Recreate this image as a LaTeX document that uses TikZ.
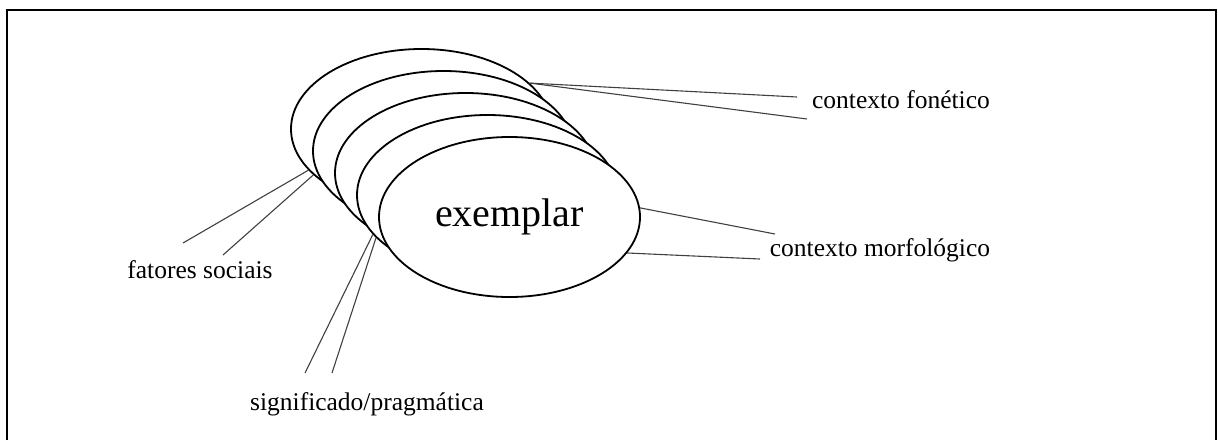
\documentclass[tikz,border=0pt]{standalone}
\usepackage{fontspec}
\setmainfont{Liberation Serif}
\usetikzlibrary{shapes.geometric, positioning, calc}
\tikzset{
    layer/.style={draw, ellipse, fill=white, line width=1.8pt, inner sep=0pt, minimum width=261pt, minimum height=160pt},
    label/.style={font=\fontsize{25.5}{30}\selectfont, inner sep=0pt},
    link/.style={line width=1.1pt, draw=black!75},
    frame/.style={line width=1.6pt, draw=black},
}
\begin{document}
\begin{tikzpicture}[x=1pt, y=-1pt]
    \useasboundingbox (0,0) rectangle (1218,440);
    % Frame
    \draw[frame] (7,440) -- (7,10) -- (1216,10) -- (1216,440);

    % Stacked exemplars, back to front
    \foreach \k in {4,3,2,1} {
        \node[layer] (e\k) at ({509.5-22*\k}, {217-22*\k}) {};
    }
    \node[layer, font=\fontsize{40}{46}\selectfont] (e0) at (509.5, 217) {exemplar};

    % Labels
    \node[label] (fon) at (901, 100) {contexto fonético};
    \node[label] (morf) at (880, 250) {contexto morfológico};
    \node[label] (soc) at (200, 270) {fatores sociais};
    \node[label] (sig) at (367, 404) {significado/pragmática};

    % Free ends of the links
    \coordinate (fon1) at (797, 97);
    \coordinate (fon2) at (807, 119);
    \coordinate (morf1) at (775, 234);
    \coordinate (morf2) at (760, 259);
    \coordinate (soc1) at (183, 243);
    \coordinate (soc2) at (223, 255);
    \coordinate (sig1) at (305, 373);
    \coordinate (sig2) at (332, 373);

    % Links
    \draw[link] (e4.23) -- (fon1);
    \draw[link] (e4.23) -- (fon2);
    \draw[link] (e0.4) -- (morf1);
    \draw[link] (e0.343) -- (morf2);
    \draw[link] (e4.200) -- (soc1);
    \draw[link] (e4.203) -- (soc2);
    \draw[link] (e1.199) -- (sig1);
    \draw[link] (e1.201) -- (sig2);
\end{tikzpicture}
\end{document}
